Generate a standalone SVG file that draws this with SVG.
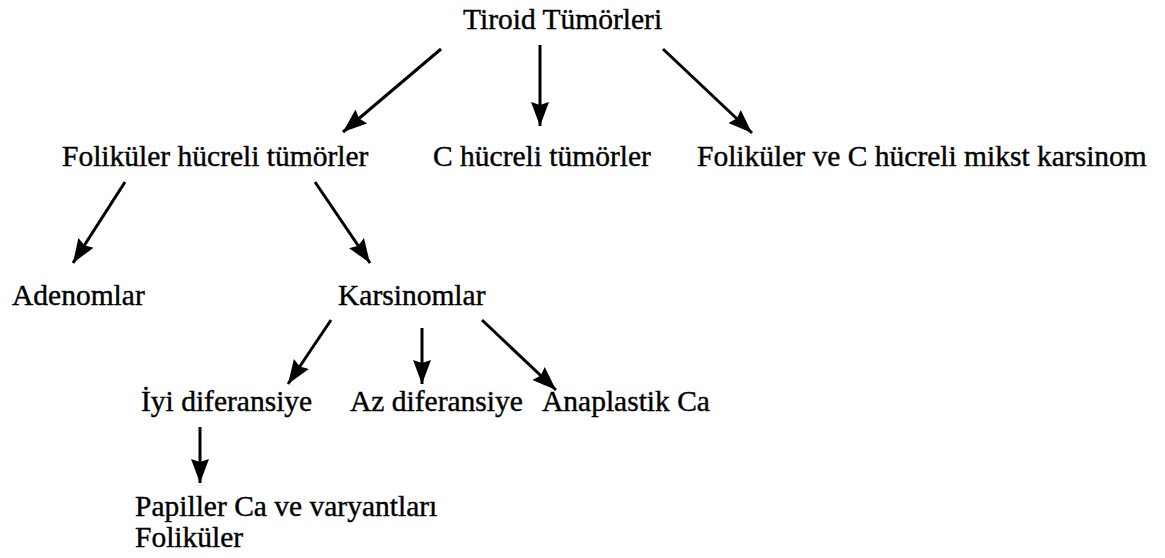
<svg xmlns="http://www.w3.org/2000/svg" width="1165" height="558" viewBox="0 0 1165 558">
  <style>
    .t { font-family: "Liberation Serif", "Times New Roman", serif; font-size: 29.5px; fill: #000; stroke: #000; stroke-width: 0.4px; }
    .c { stroke: #000; stroke-width: 3; fill: none; marker-end: url(#ah); }
  </style>
  <defs>
    <marker id="ah" markerUnits="userSpaceOnUse" markerWidth="26" markerHeight="20" refX="24" refY="10" orient="auto" viewBox="0 0 26 20">
      <path d="M0,1 L24,10 L0,19 L3,10 z" fill="#000"/>
    </marker>
  </defs>
  <rect width="1165" height="558" fill="#fff"/>
  <g id="connectors">
    <line class="c" x1="441" y1="49" x2="343" y2="132"/>
    <line class="c" x1="540" y1="45" x2="540" y2="126"/>
    <line class="c" x1="663" y1="49" x2="752" y2="133"/>
    <line class="c" x1="125" y1="182" x2="73" y2="263"/>
    <line class="c" x1="315" y1="182" x2="370" y2="263"/>
    <line class="c" x1="331" y1="320" x2="288" y2="384"/>
    <line class="c" x1="422" y1="328" x2="422" y2="384"/>
    <line class="c" x1="482" y1="320" x2="556" y2="390"/>
    <line class="c" x1="200" y1="427" x2="200" y2="483"/>
  </g>
  <g id="n-tiroid"><text class="t" x="463" y="29">Tiroid Tümörleri</text></g>
  <g id="n-folikuler-hucreli"><text class="t" x="62" y="166">Foliküler hücreli tümörler</text></g>
  <g id="n-c-hucreli"><text class="t" x="433" y="166">C hücreli tümörler</text></g>
  <g id="n-mikst"><text class="t" x="697" y="166">Foliküler ve C hücreli mikst karsinom</text></g>
  <g id="n-adenomlar"><text class="t" x="12" y="305">Adenomlar</text></g>
  <g id="n-karsinomlar"><text class="t" x="338" y="305">Karsinomlar</text></g>
  <g id="n-iyi"><text class="t" x="141" y="411">İyi diferansiye</text></g>
  <g id="n-az"><text class="t" x="350" y="411">Az diferansiye</text></g>
  <g id="n-anaplastik"><text class="t" x="542" y="411">Anaplastik Ca</text></g>
  <g id="n-papiller">
    <text class="t" x="135" y="516">Papiller Ca ve varyantları</text>
    <text class="t" x="135" y="547">Foliküler</text>
  </g>
</svg>
